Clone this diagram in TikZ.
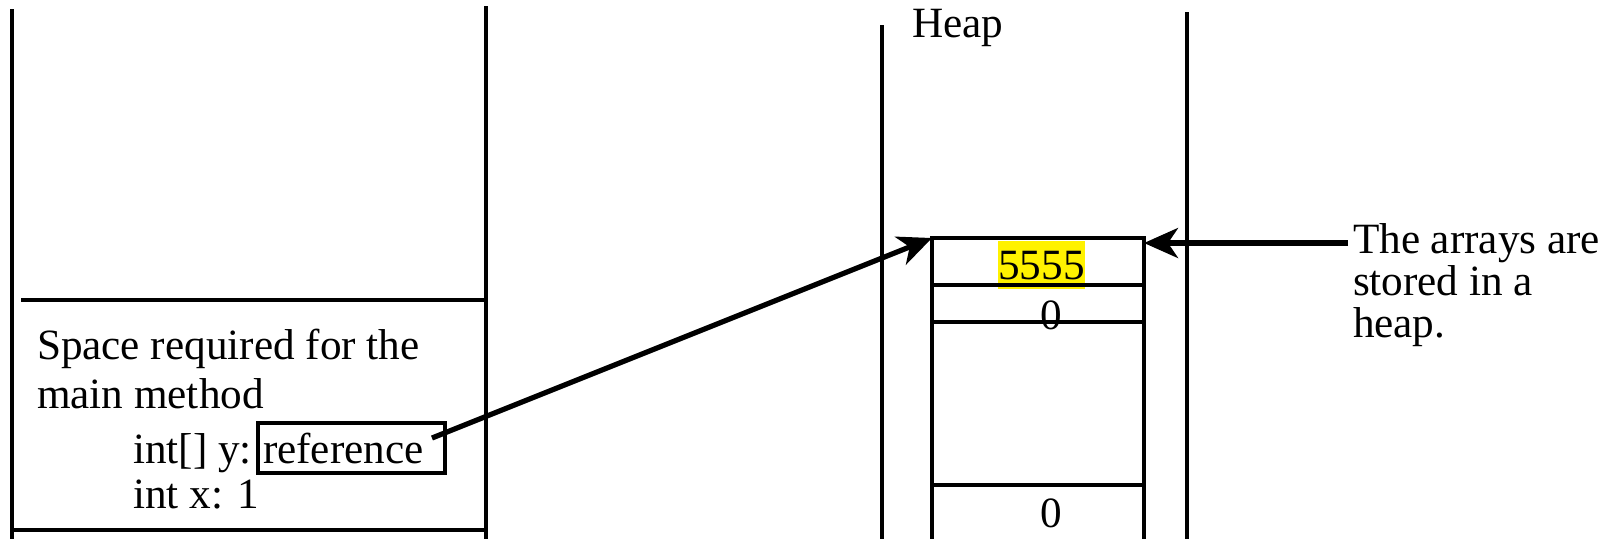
\documentclass[tikz,border=0pt]{standalone}
\usepackage{fontspec}
\setmainfont{Liberation Serif}
\usetikzlibrary{arrows.meta}
\begin{document}
\begin{tikzpicture}[x=0.5pt,y=-0.5pt,
  every node/.style={inner sep=0pt,outer sep=0pt,font=\fontsize{21.6pt}{23pt}\selectfont},
  wall/.style={line width=2.2pt},
  cell/.style={draw,line width=1.8pt,anchor=north west},
  txt/.style={anchor=base west},
  ptr/.style={line width=2.6pt,-{Stealth[length=17pt,width=15pt,inset=5pt]}}]
\useasboundingbox (0,0) rectangle (1611,538);
% stack
\draw[wall] (12,9) -- (12,545);
\draw[wall] (486,6) -- (486,545);
\draw[wall] (21,300) -- (486,300);
\draw[wall] (12,530) -- (486,530);
\node[txt] (l1) at (37,359) {Space required for the};
\node[txt] (l2) at (37,408) {main method};
\node[txt] (l3) at (133,463) {int[] y:};
\node[txt] (l4) at (133,508) {int x: 1};
\node[draw,line width=1.8pt,minimum width=93.5pt,minimum height=25pt] (ref) at (351.5,448) {};
\node[txt] (reftxt) at (263,463) {reference};
% heap
\draw[wall] (882,25) -- (882,545);
\draw[wall] (1187,12) -- (1187,545);
\node[txt] (heap) at (912,37) {Heap};
\fill[yellow] (998,241) rectangle (1085,289);
\node[cell,minimum width=106pt,minimum height=23.5pt] (c1) at (932,238) {};
\node[cell,minimum width=106pt,minimum height=18.5pt] (c2) at (932,285) {};
\node[cell,minimum width=106pt,minimum height=81.5pt] (c3) at (932,322) {};
\node[cell,minimum width=106pt,minimum height=30pt] (c4) at (932,485) {};
\node[anchor=base] (v1) at (1041.5,279) {5555};
\node[anchor=base] (v2) at (1051,329) {0};
\node[anchor=base] (v3) at (1051,527) {0};
% arrows
\coordinate (refout) at (432,438);
\draw[ptr] (refout) -- (c1.north west);
\coordinate (note) at (1348,243);
\draw[ptr] (note) -- (c1.east |- note);
\node[txt] (n1) at (1353,253) {The arrays are};
\node[txt] (n2) at (1353,295) {stored in a};
\node[txt] (n3) at (1353,337) {heap.};
\end{tikzpicture}
\end{document}
